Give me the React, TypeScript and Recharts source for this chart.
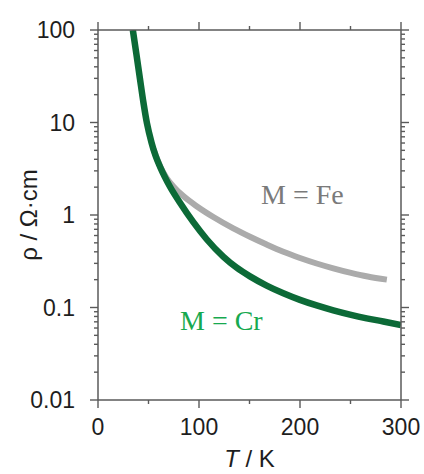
import React from 'react';
import { LineChart, Line, XAxis, YAxis, ReferenceDot } from 'recharts';

// M = Cr series (T in K, rho in ohm*cm)
const crT = [34.5, 38, 41.5, 45, 48.5, 53, 57, 61.4, 66, 71.3, 81.2, 94.4, 107.6, 124, 137, 150.5, 167, 183.5, 200, 216.5, 233, 249.5, 266, 282.5, 300];
const crRho = [100, 55, 29.9, 16.4, 9.77, 6.07, 4.37, 3.33, 2.6, 2.02, 1.355, 0.836, 0.547, 0.355, 0.271, 0.217, 0.1726, 0.1426, 0.121, 0.1052, 0.0931, 0.0838, 0.0764, 0.0706, 0.0646];

// M = Fe series
const feT = [55, 61.4, 68, 74.6, 84.5, 97.7, 114.2, 134, 150.5, 167, 183.5, 200, 216.5, 233, 249.5, 267, 286];
const feRho = [5.13, 3.39, 2.51, 2.04, 1.6, 1.245, 0.951, 0.716, 0.581, 0.479, 0.4, 0.343, 0.299, 0.265, 0.238, 0.216, 0.2];

// ticks
const xTicks = [0, 50, 100, 150, 200, 250, 300];
const xMajor = [0, 100, 200, 300];
const yTicks = [
  0.01, 0.02, 0.03, 0.04, 0.05, 0.06, 0.07, 0.08, 0.09,
  0.1, 0.2, 0.3, 0.4, 0.5, 0.6, 0.7, 0.8, 0.9,
  1, 2, 3, 4, 5, 6, 7, 8, 9,
  10, 20, 30, 40, 50, 60, 70, 80, 90,
  100,
];
const yMajor = [0.01, 0.1, 1, 10, 100];
const yLabels = ['0.01', '0.1', '1', '10', '100'];

const labelFe = { text: 'M = Fe', T: 161.4, rho: 1.31 };
const labelCr = { text: 'M = Cr', T: 81.2, rho: 0.0571 };

const crData = crT.map((T, i) => ({ T, rho: crRho[i] }));
const feData = feT.map((T, i) => ({ T, rho: feRho[i] }));

const AX = '#5a5a5a';
const TICK_FONT = { fontFamily: '"Liberation Sans", Arial, sans-serif', fontSize: 23, fill: '#1e1e1e' };

const BottomTick = (p: any) => {
  const { x, y, payload } = p;
  const v = payload.value;
  const major = xMajor.includes(v);
  const ay = y - 18;
  return (
    <g>
      <line x1={x} x2={x} y1={ay} y2={ay + (major ? 8 : 4)} stroke={AX} strokeWidth={1.4} />
      {major && (
        <text x={x} y={ay + 18} dy="0.72em" textAnchor="middle" {...TICK_FONT}>
          {String(v)}
        </text>
      )}
    </g>
  );
};

const TopTick = (p: any) => {
  const { x, y, payload } = p;
  const v = payload.value;
  const major = xMajor.includes(v);
  const ay = y + 8;
  return <line x1={x} x2={x} y1={ay} y2={ay - (major ? 8 : 4)} stroke={AX} strokeWidth={1.4} />;
};

const LeftTick = (p: any) => {
  const { x, y, payload } = p;
  const v = payload.value;
  const idx = yMajor.indexOf(v);
  const major = idx >= 0;
  const ax = x + 15 + 8;
  return (
    <g>
      <line x1={ax - (major ? 8 : 4)} x2={ax} y1={y} y2={y} stroke={AX} strokeWidth={1.4} />
      {major && (
        <text x={x} y={y} dy="0.36em" textAnchor="end" {...TICK_FONT}>
          {yLabels[idx]}
        </text>
      )}
    </g>
  );
};

const RightTick = (p: any) => {
  const { x, y, payload } = p;
  const v = payload.value;
  const major = yMajor.includes(v);
  const ax = x - 8;
  return <line x1={ax} x2={ax + (major ? 8 : 4)} y1={y} y2={y} stroke={AX} strokeWidth={1.4} />;
};

const dotLabel = (text: string, color: string) => (props: any) => {
  const vb = props.viewBox || {};
  const cx = (vb.x ?? 0) + (vb.width ?? 0) / 2;
  const cy = (vb.y ?? 0) + (vb.height ?? 0) / 2;
  return (
    <text x={cx} y={cy} textAnchor="start" fill={color}
      style={{ fontFamily: '"Liberation Serif", "Times New Roman", serif', fontSize: 28 }}>
      {text}
    </text>
  );
};

const YLabel = (props: any) => {
  const vb = props.viewBox || {};
  const cx = (vb.x ?? 0) + 28;
  const cy = (vb.y ?? 0) + (vb.height ?? 0) / 2;
  return (
    <text x={cx} y={cy} transform={`rotate(-90 ${cx} ${cy})`} textAnchor="middle" dominantBaseline="central"
      style={{ fontFamily: '"Liberation Sans", Arial, sans-serif', fontSize: 24 }} fill="#1e1e1e">
      ρ / Ω·cm
    </text>
  );
};

const XLabel = (props: any) => {
  const vb = props.viewBox || {};
  const cx = (vb.x ?? 0) + (vb.width ?? 0) / 2;
  const cy = (vb.y ?? 0) + 67;
  return (
    <text x={cx} y={cy} textAnchor="middle"
      style={{ fontFamily: '"Liberation Sans", Arial, sans-serif', fontSize: 24 }} fill="#1e1e1e">
      <tspan fontStyle="italic">T</tspan> / K
    </text>
  );
};

export default function App() {
  return (
    <div style={{ position: 'absolute', left: 0, top: 0, width: 424, height: 474, background: '#fff' }}>
      <LineChart width={424} height={474} margin={{ top: 0, right: 0, bottom: 0, left: 0 }}>
        <XAxis
          xAxisId={0}
          dataKey="T"
          type="number"
          domain={[0, 300]}
          allowDataOverflow
          ticks={xTicks}
          interval={0}
          height={74}
          tickSize={8}
          tickMargin={10}
          tickLine={false}
          axisLine={{ stroke: AX, strokeWidth: 1.5 }}
          tick={<BottomTick />}
          label={{ content: <XLabel /> } as any}
        />
        <XAxis
          xAxisId="top"
          orientation="top"
          dataKey="T"
          type="number"
          domain={[0, 300]}
          allowDataOverflow
          ticks={xTicks}
          interval={0}
          height={30}
          tickSize={8}
          tickMargin={0}
          tickLine={false}
          axisLine={{ stroke: AX, strokeWidth: 1.5 }}
          tick={<TopTick />}
        />
        <YAxis
          yAxisId={0}
          type="number"
          scale="log"
          domain={[0.01, 100]}
          allowDataOverflow
          ticks={yTicks}
          interval={0}
          width={98}
          tickSize={8}
          tickMargin={15}
          tickLine={false}
          axisLine={{ stroke: AX, strokeWidth: 1.5 }}
          tick={<LeftTick />}
          label={{ content: <YLabel /> } as any}
        />
        <YAxis
          yAxisId="right"
          orientation="right"
          type="number"
          scale="log"
          domain={[0.01, 100]}
          allowDataOverflow
          ticks={yTicks}
          interval={0}
          width={23}
          tickSize={8}
          tickMargin={0}
          tickLine={false}
          axisLine={{ stroke: AX, strokeWidth: 1.5 }}
          tick={<RightTick />}
        />
        <Line
          xAxisId="top"
          yAxisId="right"
          data={feData}
          dataKey="rho"
          type="monotone"
          stroke="#ababab"
          strokeWidth={6}
          dot={false}
          isAnimationActive={false}
        />
        <Line
          xAxisId={0}
          yAxisId={0}
          data={crData}
          dataKey="rho"
          type="monotone"
          stroke="#0c6a37"
          strokeWidth={6.5}
          dot={false}
          isAnimationActive={false}
        />
        <ReferenceDot x={labelFe.T} y={labelFe.rho} r={1} fill="none" stroke="none"
          label={{ content: dotLabel(labelFe.text, '#7a7a7a') } as any} />
        <ReferenceDot x={labelCr.T} y={labelCr.rho} r={1} fill="none" stroke="none"
          label={{ content: dotLabel(labelCr.text, '#17a94f') } as any} />
      </LineChart>
    </div>
  );
}
